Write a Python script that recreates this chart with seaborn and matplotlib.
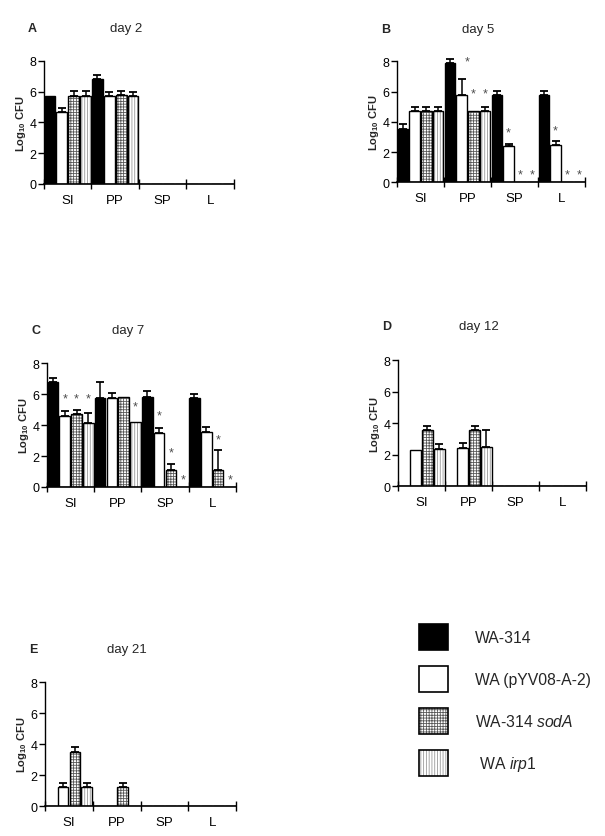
import pandas as pd
import seaborn as sns
import matplotlib.pyplot as plt
from matplotlib.patches import Patch, Rectangle

organs = ['SI', 'PP', 'SP', 'L']
strains = ['WA-314', 'WA (pYV08-A-2)', 'WA-314 sodA', 'WA irp1']
legend_labels = ['WA-314', 'WA (pYV08-A-2)', r'WA-314 $\mathit{sodA}$', r' WA $\mathit{irp1}$']

# rows = strains, columns = organs (SI, PP, SP, L); 0 = nothing detected / not shown
day2_mean = [[5.75, 6.85, 0, 0], [4.7, 5.75, 0, 0], [5.75, 5.8, 0, 0], [5.75, 5.75, 0, 0]]
day2_err = [[0, 0.25, 0, 0], [0.25, 0.25, 0, 0], [0.3, 0.25, 0, 0], [0.3, 0.25, 0, 0]]
day2_stars = []

day5_mean = [[3.55, 7.9, 5.8, 5.8], [4.7, 5.8, 2.4, 2.45], [4.7, 4.7, 0, 0], [4.7, 4.7, 0, 0]]
day5_err = [[0.3, 0.25, 0.25, 0.25], [0.3, 1.05, 0.15, 0.3], [0.3, 0, 0, 0], [0.25, 0.25, 0, 0]]
# (strain, organ, height of the star, shift to the right)
day5_stars = [(1, 1, 8.0, 0.12), (2, 1, 5.9, 0), (3, 1, 5.9, 0), (1, 2, 3.3, 0),
              (2, 2, 0.55, 0), (3, 2, 0.55, 0), (1, 3, 3.4, 0), (2, 3, 0.55, 0), (3, 3, 0.55, 0)]

day7_mean = [[6.8, 5.75, 5.8, 5.75], [4.6, 5.75, 3.5, 3.55], [4.7, 5.8, 1.1, 1.1], [4.15, 4.2, 0, 0]]
day7_err = [[0.25, 1.05, 0.4, 0.25], [0.3, 0.3, 0.3, 0.3], [0.25, 0, 0.4, 1.3], [0.65, 0, 0, 0]]
day7_stars = [(1, 0, 5.7, 0), (2, 0, 5.7, 0), (3, 0, 5.7, 0), (3, 1, 5.2, 0), (1, 2, 4.6, 0),
              (2, 2, 2.2, 0), (3, 2, 0.5, 0), (2, 3, 3.1, 0), (3, 3, 0.5, 0)]

day12_mean = [[0, 0, 0, 0], [2.3, 2.45, 0, 0], [3.55, 3.55, 0, 0], [2.35, 2.5, 0, 0]]
day12_err = [[0, 0, 0, 0], [0, 0.3, 0, 0], [0.3, 0.3, 0, 0], [0.3, 1.05, 0, 0]]
day12_stars = []

day21_mean = [[0, 0, 0, 0], [1.2, 0, 0, 0], [3.5, 1.2, 0, 0], [1.2, 0, 0, 0]]
day21_err = [[0, 0, 0, 0], [0.3, 0, 0, 0], [0.3, 0.3, 0, 0], [0.3, 0, 0, 0]]
day21_stars = []

panels = [
    ('A', 'day 2', day2_mean, day2_err, day2_stars, [0.0727, 0.779, 0.314, 0.147]),
    ('B', 'day 5', day5_mean, day5_err, day5_stars, [0.656, 0.781, 0.311, 0.1446]),
    ('C', 'day 7', day7_mean, day7_err, day7_stars, [0.0777, 0.417, 0.312, 0.148]),
    ('D', 'day 12', day12_mean, day12_err, day12_stars, [0.658, 0.418, 0.311, 0.1505]),
    ('E', 'day 21', day21_mean, day21_err, day21_stars, [0.0744, 0.0358, 0.316, 0.148]),
]

fills = ['black', 'white', 'white', 'white']
hatches = [None, None, '++++++', '||||||']
hatch_cols = ['black', 'black', '0.35', '0.6']

sns.set_style('ticks')
plt.rcParams['font.family'] = ['Liberation Sans', 'DejaVu Sans']
plt.rcParams['mathtext.fontset'] = 'custom'
plt.rcParams['mathtext.rm'] = 'Liberation Sans'
plt.rcParams['mathtext.it'] = 'Liberation Sans:italic'
plt.rcParams['mathtext.bf'] = 'Liberation Sans:bold'
plt.rcParams['axes.edgecolor'] = 'black'
plt.rcParams['xtick.color'] = 'black'
plt.rcParams['ytick.color'] = 'black'
plt.rcParams['hatch.linewidth'] = 0.6

fig = plt.figure(figsize=(6.05, 8.37), dpi=100)

for letter, title, mean, err, stars, pos in panels:
    ax = fig.add_axes(pos)
    rows = []
    for i, s in enumerate(strains):
        for j, o in enumerate(organs):
            rows.append({'organ': o, 'strain': s, 'value': mean[i][j]})
    df = pd.DataFrame(rows)
    sns.barplot(data=df, x='organ', y='value', hue='strain', order=organs, hue_order=strains,
                palette=fills, saturation=1, width=1, gap=0.1, errorbar=None,
                legend=False, edgecolor='black', linewidth=1, ax=ax)
    bars = list(ax.containers)

    for i, cont in enumerate(bars):
        for j, p in enumerate(cont.patches):
            if hatches[i]:
                p.set_hatch(hatches[i])
                p.set_edgecolor(hatch_cols[i])
                p.set_linewidth(0)
                ax.add_patch(Rectangle(p.get_xy(), p.get_width(), p.get_height(),
                                       fill=False, ec='black', lw=1, zorder=p.get_zorder() + 0.1))
            if err[i][j] > 0:
                xc = p.get_x() + p.get_width() / 2
                ax.errorbar(xc, p.get_height(), yerr=[[0], [err[i][j]]], fmt='none',
                            ecolor='black', elinewidth=1.1, capsize=3, capthick=1.3, clip_on=False)

    for i, j, y, dx in stars:
        p = bars[i].patches[j]
        xc = p.get_x() + p.get_width() / 2 + dx
        ax.text(xc, y, '*', ha='center', va='center', fontsize=9, color='0.3')

    ax.set_xlim(-0.5, 3.5)
    ax.set_ylim(0, 8)
    ax.set_yticks([0, 2, 4, 6, 8])
    ax.set_xticks([-0.5, 0.5, 1.5, 2.5, 3.5])
    ax.set_xticklabels([])
    ax.set_xticks([0, 1, 2, 3], minor=True)
    ax.set_xticklabels(organs, minor=True, fontsize=9.5)
    ax.tick_params(axis='x', which='major', direction='inout', length=7, width=1)
    ax.tick_params(axis='x', which='minor', length=0, pad=7)
    ax.tick_params(axis='y', length=4, width=1, labelsize=9, pad=1.5)
    sns.despine(ax=ax)
    ax.spines['left'].set_linewidth(1)
    ax.spines['bottom'].set_linewidth(1.2)
    ax.set_xlabel('')
    ax.set_ylabel(r'Log$_{\mathbf{10}}$ CFU', fontsize=8, fontweight='bold', labelpad=1)
    ax.text(-0.06, 1.27, letter, transform=ax.transAxes, ha='center', va='center',
            fontsize=9, fontweight='bold')
    ax.text(0.43, 1.27, title, transform=ax.transAxes, ha='center', va='center', fontsize=9.5)

handles = []
for i in range(4):
    if hatches[i]:
        handles.append((Patch(facecolor='white', edgecolor=hatch_cols[i], hatch=hatches[i], lw=0),
                        Patch(fill=False, edgecolor='black', lw=1.2)))
    else:
        handles.append(Patch(facecolor=fills[i], edgecolor='black', lw=1.2))
fig.legend(handles, legend_labels, loc='upper left', bbox_to_anchor=(0.682, 0.261),
           frameon=False, fontsize=11.3, handlelength=1.85, handleheight=2.2,
           labelspacing=1.0, handletextpad=1.72, borderaxespad=0)

fig.savefig('out.png', dpi=100)
